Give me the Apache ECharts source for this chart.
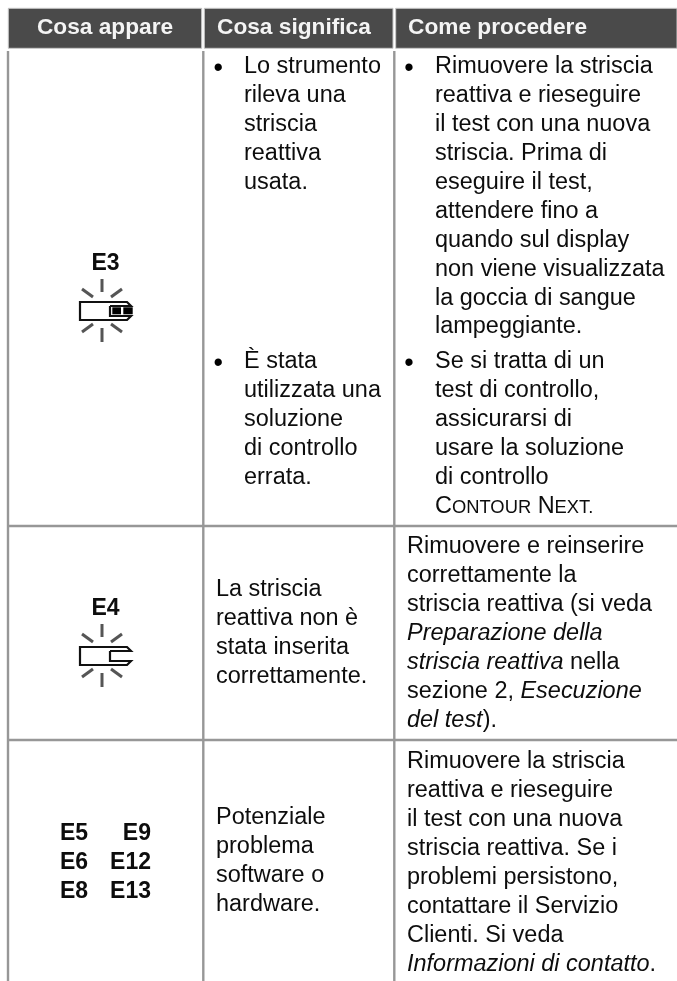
<!DOCTYPE html>
<html>
<head>
<meta charset="utf-8">
<style>html,body{margin:0;padding:0;background:#fff}#c{width:677px;height:981px}</style>
<script src="https://cdn.jsdelivr.net/npm/echarts@6/dist/echarts.min.js"></script>
</head>
<body>
<div id="c"></div>
<script>
// ---- content ----
const headers = ['Cosa appare', 'Cosa significa', 'Come procedere'];
const codesE3 = ['E3'];
const codesE4 = ['E4'];
const codesLeft = ['E5', 'E6', 'E8'];
const codesRight = ['E9', 'E12', 'E13'];
const meaning1a = ['Lo strumento', 'rileva una', 'striscia', 'reattiva', 'usata.'];
const meaning1b = ['È stata', 'utilizzata una', 'soluzione', 'di controllo', 'errata.'];
const meaning2 = ['La striscia', 'reattiva non è', 'stata inserita', 'correttamente.'];
const meaning3 = ['Potenziale', 'problema', 'software o', 'hardware.'];
const action1a = ['Rimuovere la striscia', 'reattiva e rieseguire', 'il test con una nuova', 'striscia. Prima di', 'eseguire il test,', 'attendere fino a', 'quando sul display', 'non viene visualizzata', 'la goccia di sangue', 'lampeggiante.'];
const action1b = ['Se si tratta di un', 'test di controllo,', 'assicurarsi di', 'usare la soluzione', 'di controllo', [['C', 'n'], ['ONTOUR', 's'], [' N', 'n'], ['EXT.', 's']]];
const action2 = ['Rimuovere e reinserire', 'correttamente la', 'striscia reattiva (si veda', [['Preparazione della', 'i']], [['striscia reattiva', 'i'], [' nella', 'n']], [['sezione 2, ', 'n'], ['Esecuzione', 'i']], [['del test', 'i'], [').', 'n']]];
const action3 = ['Rimuovere la striscia', 'reattiva e rieseguire', 'il test con una nuova', 'striscia reattiva. Se i', 'problemi persistono,', 'contattare il Servizio', 'Clienti. Si veda', [['Informazioni di contatto', 'i'], ['.', 'n']]];

// ---- layout ----
const FONT = '"Liberation Sans", Helvetica, Arial, sans-serif';
const SIZE = 23, SMALL = 18, PITCH = 28.9, MID = 0.3465, STRETCH = 1.02;
const BULLET_SIZE = 27, BULLET_DROP = 3.3;
const INK = '#0d0d0d', RULE = '#979797', HEAD = '#4a4a4a', HEAD_INK = '#f4f4f4';
const blocks = [
  { lines: meaning1a, x: 244, y: 75, bullet: 213.6 },
  { lines: meaning1b, x: 244, y: 370, bullet: 213.6 },
  { lines: meaning2, x: 216, y: 598 },
  { lines: meaning3, x: 216, y: 826 },
  { lines: action1a, x: 435, y: 75, bullet: 404.3 },
  { lines: action1b, x: 435, y: 370, bullet: 404.3 },
  { lines: action2, x: 407, y: 555 },
  { lines: action3, x: 407, y: 770 }
];

const measure = document.createElement('canvas').getContext('2d');
function fontOf(kind) {
  const size = kind === 's' ? SMALL : SIZE;
  return { size, style: kind === 'i' ? 'italic' : 'normal' };
}
function seg(text, x, base, kind) {
  const f = fontOf(kind);
  return {
    type: 'text', silent: true, x, y: base - MID * f.size, scaleX: STRETCH,
    style: {
      text, fontFamily: FONT, fontSize: f.size, fontStyle: f.style, fontWeight: 'normal',
      fill: INK, align: 'left', verticalAlign: 'middle'
    }
  };
}
function bulletMark(x, base) {
  return {
    type: 'text', silent: true, x, y: base - MID * BULLET_SIZE + BULLET_DROP,
    style: { text: '•', fontFamily: FONT, fontSize: BULLET_SIZE, fill: '#000', align: 'left', verticalAlign: 'middle' }
  };
}
function lineEls(line, x, base) {
  const parts = typeof line === 'string' ? [[line, 'n']] : line;
  const out = [];
  let cx = x;
  parts.forEach(([t, k]) => {
    const f = fontOf(k);
    measure.font = f.style + ' ' + f.size + 'px ' + FONT;
    out.push(seg(t, cx, base, k));
    cx += measure.measureText(t).width * STRETCH;
  });
  return out;
}
function bold(text, x, base, align, fill, size) {
  const s = size || SIZE;
  return {
    type: 'text', silent: true, x, y: base - MID * s,
    style: { text, fontFamily: FONT, fontSize: s, fontWeight: 'bold', fill: fill || INK, align, verticalAlign: 'middle' }
  };
}
function rule(x1, y1, x2, y2) {
  return { type: 'line', silent: true, shape: { x1, y1, x2, y2 }, style: { stroke: RULE, lineWidth: 2.4 } };
}
function ray(x1, y1, x2, y2) {
  return { type: 'line', silent: true, shape: { x1, y1, x2, y2 }, style: { stroke: '#555555', lineWidth: 3 } };
}
function blink(top) {
  return [
    ray(102, top, 102, top + 13),
    ray(82, top + 10, 93, top + 18),
    ray(122, top + 10, 111, top + 18),
    ray(82, top + 53, 93, top + 45),
    ray(122, top + 53, 111, top + 45),
    ray(102, top + 49, 102, top + 63)
  ];
}
function stripOutline(top) {
  return {
    type: 'polyline', silent: true,
    shape: { points: [[110, top + 4], [131, top + 4], [127, top], [80, top], [80, top + 18], [127, top + 18], [131, top + 14], [110, top + 14], [110, top + 4]] },
    style: { stroke: '#111', lineWidth: 2.2, fill: 'none', lineJoin: 'miter' }
  };
}

const els = [];
// header band
[[8.3, 193.4], [204.3, 188.7], [395.7, 281.3]].forEach(([x, w]) => {
  els.push({ type: 'rect', silent: true, shape: { x, y: 8.3, width: w, height: 40 }, style: { fill: HEAD, stroke: '#c9c9c9', lineWidth: 1 } });
});
els.push(bold(headers[0], 105, 36, 'center', HEAD_INK, 22.7));
els.push(bold(headers[1], 217, 36, 'left', HEAD_INK, 22.7));
els.push(bold(headers[2], 408, 36, 'left', HEAD_INK, 22.7));
// rules
[8, 203.3, 394.3].forEach(x => els.push(rule(x, 51, x, 981)));
[526, 740].forEach(y => els.push(rule(7, y, 677, y)));
// text blocks
blocks.forEach(b => {
  if (b.bullet !== undefined) els.push(bulletMark(b.bullet, b.y));
  b.lines.forEach((l, i) => lineEls(l, b.x, b.y + i * PITCH).forEach(e => els.push(e)));
});
// codes and icons
els.push(bold(codesE3[0], 105.5, 272, 'center'));
els.push(...blink(279));
els.push(stripOutline(302));
els.push({ type: 'rect', silent: true, shape: { x: 112.3, y: 307.3, width: 8.7, height: 7 }, style: { fill: '#000' } });
els.push({ type: 'rect', silent: true, shape: { x: 123.3, y: 307.3, width: 9.4, height: 7 }, style: { fill: '#000' } });
els.push(bold(codesE4[0], 105.5, 617, 'center'));
els.push(...blink(624));
els.push(stripOutline(647));
codesLeft.forEach((t, i) => els.push(bold(t, 60, 842 + i * PITCH, 'left')));
codesRight.forEach((t, i) => els.push(bold(t, 151, 842 + i * PITCH, 'right')));

const chart = echarts.init(document.getElementById('c'), null, { renderer: 'canvas', width: 677, height: 981 });
chart.setOption({ animation: false, backgroundColor: '#ffffff', graphic: { elements: els } });
</script>
</body>
</html>
